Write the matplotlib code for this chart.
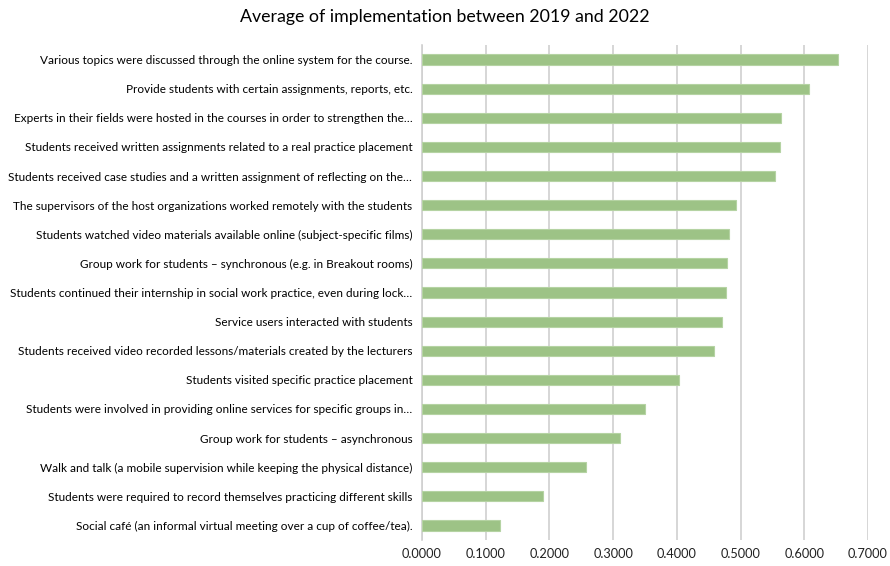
import matplotlib
matplotlib.use("Agg")
import matplotlib.pyplot as plt
import matplotlib.ticker

CATEGORIES = [
    "Various topics were discussed through the online system for the course.",
    "Provide students with certain assignments, reports, etc.",
    "Experts in their fields were hosted in the courses in order to strengthen the\u2026",
    "Students received written assignments related to a real practice placement",
    "Students received case studies and a written assignment of reflecting on the\u2026",
    "The supervisors of the host organizations worked remotely with the students",
    "Students watched video materials available online (subject-specific films)",
    "Group work for students \u2013 synchronous (e.g. in Breakout rooms)",
    "Students continued their internship in social work practice, even during lock\u2026",
    "Service users interacted with students",
    "Students received video recorded lessons/materials created by the lecturers",
    "Students visited specific practice placement",
    "Students were involved in providing online services for specific groups in\u2026",
    "Group work for students \u2013 asynchronous",
    "Walk and talk (a mobile supervision while keeping the physical distance)",
    "Students were required to record themselves practicing different skills",
    "Social caf\u00e9 (an informal virtual meeting over a cup of coffee/tea).",
]
VALUES = [
    0.6536, 0.6080, 0.5640, 0.5620, 0.5547, 0.4930, 0.4815, 0.4793, 0.4772,
    0.4710, 0.4584, 0.4040, 0.3506, 0.3108, 0.2575, 0.1905, 0.1220,
]
TITLE = "Average of implementation between 2019 and 2022"

plt.rcParams["font.family"] = ["Lato", "DejaVu Sans"]

fig = plt.figure(figsize=(8.9, 5.66), dpi=100)
ax = fig.add_axes([422 / 890, 1 - 540 / 566, (868 - 422) / 890, (540 - 45) / 566])

y = list(range(len(CATEGORIES)))
ax.barh(y, VALUES, height=0.35, color="#9dc386", edgecolor="#b5d3a3",
        linewidth=0.8, zorder=3)
ax.set_yticks(y)
ax.set_yticklabels(CATEGORIES, fontsize=8.5, color="#000000")
ax.set_ylim(len(CATEGORIES) - 0.5, -0.5)
ax.set_xlim(0, 0.7)
ax.xaxis.set_major_locator(matplotlib.ticker.MultipleLocator(0.1))
ax.xaxis.set_major_formatter(matplotlib.ticker.FormatStrFormatter("%.4f"))
ax.tick_params(axis="x", labelsize=9.2, length=0, pad=6, labelcolor="#222222")
ax.tick_params(axis="y", length=0, pad=7)
ax.grid(True, axis="x", color="#d0d0d0", linewidth=1.2, zorder=0)
for side in ("top", "right", "bottom"):
    ax.spines[side].set_visible(False)
ax.spines["left"].set_color("#d0d0d0")
ax.spines["left"].set_linewidth(1.2)

fig.text(0.5, 1 - 17 / 566, TITLE, ha="center", va="center", fontsize=12.8,
         color="#000000")

fig.savefig("out.png", dpi=100, facecolor="white")
